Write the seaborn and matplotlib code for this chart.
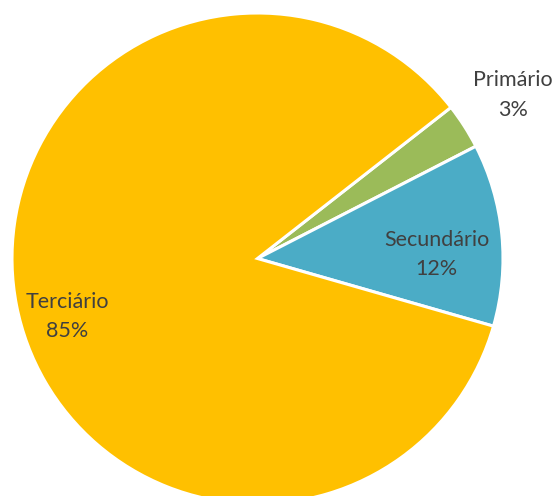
import numpy as np
import matplotlib
matplotlib.use("Agg")
import matplotlib.pyplot as plt
import seaborn as sns

# Employment share by economic sector
sectors = ["Primário", "Secundário", "Terciário"]
shares = [3, 12, 85]
colors = ["#9BBB59", "#4BACC6", "#FFC000"]

sns.set_theme(style="white")
plt.rcParams["font.family"] = ["Lato", "DejaVu Sans"]

W, H = 555, 496
fig = plt.figure(figsize=(W / 100, H / 100), dpi=100)
ax = fig.add_axes([0, 0, 1, 1])

cx, cy, r = 257.5, H - 258.5, 245.5
wedges, _ = ax.pie(
    shares, colors=colors, startangle=38, counterclock=False,
    center=(cx, cy), radius=r, frame=True,
    wedgeprops=dict(edgecolor="white", linewidth=2.2),
)
ax.set_xlim(0, W)
ax.set_ylim(0, H)
ax.set_aspect("equal")
ax.axis("off")

# label placement: radial distance (fraction of radius) and angular nudge in degrees
label_dist = [1.234, 0.73, 0.81]
label_nudge = [0.0, -4.3, 5.9]
for w, name, val, d, nudge in zip(wedges, sectors, shares, label_dist, label_nudge):
    ang = np.deg2rad((w.theta1 + w.theta2) / 2 + nudge)
    x = cx + d * r * np.cos(ang)
    y = cy + d * r * np.sin(ang)
    ax.text(x, y, f"{name}\n{val}%", ha="center", va="center",
            fontsize=15.5, color="#404040", linespacing=1.6)

fig.savefig("out.png", dpi=100)
